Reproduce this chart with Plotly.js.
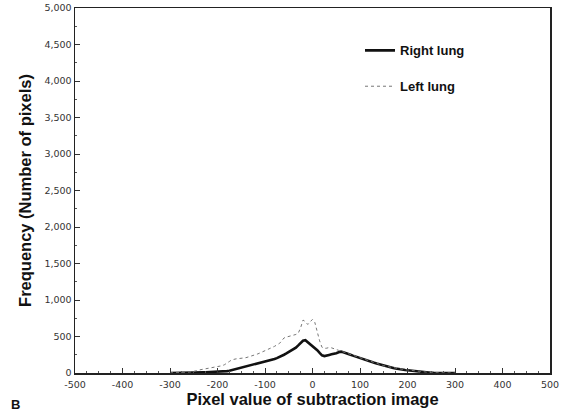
<!DOCTYPE html>
<html>
<head>
<meta charset="utf-8">
<script src="https://cdn.plot.ly/plotly-3.0.1.min.js"></script>
<style>html,body{margin:0;padding:0;background:#fff;}#chart{width:572px;height:414px;}</style>
</head>
<body>
<div id="chart"></div>
<script>
var pixelValues = [-300,-295,-290,-285,-280,-275,-270,-265,-260,-255,-250,-245,-240,-235,-230,-225,-220,-215,-210,-205,-200,-195,-190,-185,-180,-175,-170,-165,-160,-155,-150,-145,-140,-135,-130,-125,-120,-115,-110,-105,-100,-95,-90,-85,-80,-75,-70,-65,-60,-55,-50,-45,-40,-35,-30,-25,-20,-15,-10,-5,0,5,10,15,20,25,30,35,40,45,50,55,60,65,70,75,80,85,90,95,100,105,110,115,120,125,130,135,140,145,150,155,160,165,170,175,180,185,190,195,200,205,210,215,220,225,230,235,240,245,250,255,260,265,270,275,280,285,290,295,300];
var rightLung = [0,0,1,0,2,1,3,2,5,4,5,7,8,9,10,11,12,13,14,15,16,17,19,22,26,32,40,48,56,66,76,86,95,104,113,120,128,137,146,152,160,165,173,182,192,204,216,232,250,268,286,300,322,348,378,412,442,450,422,395,372,345,312,275,242,232,236,248,256,262,272,285,292,284,276,262,250,238,226,214,202,190,180,170,160,150,140,130,120,110,100,90,82,76,70,62,55,50,45,42,38,34,30,25,20,15,12,9,6,4,3,2,2,1,1,0,0,0,0,0,0];
var leftLung = [2,2,3,4,5,6,8,10,12,16,20,30,40,46,50,52,55,62,70,78,86,92,100,115,132,158,180,190,195,198,200,205,210,220,228,240,250,262,276,290,305,316,330,348,365,385,402,440,480,492,500,508,516,528,545,620,725,705,665,700,735,690,560,440,352,338,340,350,345,330,320,310,300,290,280,268,256,244,232,220,210,198,186,174,162,152,142,130,120,110,100,92,85,78,72,65,58,52,48,45,42,38,35,28,22,18,14,11,8,6,5,4,3,2,2,1,1,0,0,0,0];
var xTicks = [-500,-400,-300,-200,-100,0,100,200,300,400,500];
var xTickLabels = ['-500','-400','-300','-200','-100','0','100','200','300','400','500'];
var yTicks = [0,500,1000,1500,2000,2500,3000,3500,4000,4500,5000];
var yTickLabels = ['0','500','1,000','1,500','2,000','2,500','3,000','3,500','4,000','4,500','5,000'];

var traces = [
  {x: pixelValues, y: rightLung, type: 'scatter', mode: 'lines', name: 'Right lung', legendgroup: 'r',
   line: {color: '#111', width: 2.6}},
  {x: pixelValues, y: leftLung, type: 'scatter', mode: 'lines', name: 'Left lung', legendgroup: 'l',
   line: {color: '#777', width: 1, dash: 'dot'}}
];

var axisFont = {family: 'DejaVu Sans, sans-serif', size: 9.5, color: '#333'};
var boldFont = 'Liberation Sans, Arial, sans-serif';
var layout = {
  width: 572, height: 414,
  margin: {l: 75, r: 22, t: 8, b: 41},
  paper_bgcolor: '#fff', plot_bgcolor: '#fff',
  showlegend: true,
  legend: {x: 0.6, y: 0.925, xanchor: 'left', yanchor: 'top', traceorder: 'grouped', tracegroupgap: 16,
    font: {family: boldFont, size: 13, color: '#111', weight: 'bold'},
    bgcolor: 'rgba(0,0,0,0)', itemwidth: 30},
  xaxis: {range: [-500, 500], tickvals: xTicks, ticktext: xTickLabels, ticks: 'inside', ticklen: 5, tickcolor: '#333', tickwidth: 1,
    showline: true, linecolor: '#222', linewidth: 1.5, mirror: true, showgrid: false, zeroline: false,
    tickfont: axisFont, ticklabelstandoff: 2,
    minor: {dtick: 25, ticks: 'inside', ticklen: 2, tickcolor: '#555'},
    title: {text: 'Pixel value of subtraction image', standoff: 2,
      font: {family: boldFont, size: 16.5, color: '#111', weight: 'bold'}}},
  yaxis: {range: [0, 5000], tickvals: yTicks, ticktext: yTickLabels, ticks: 'inside', ticklen: 5, tickcolor: '#333', tickwidth: 1,
    showline: true, linecolor: '#222', linewidth: 1.5, mirror: true, showgrid: false, zeroline: false,
    tickfont: axisFont,
    minor: {dtick: 250, ticks: 'inside', ticklen: 2, tickcolor: '#555'},
    title: {text: 'Frequency (Number of pixels)', standoff: 8,
      font: {family: boldFont, size: 16.5, color: '#111', weight: 'bold'}}},
  annotations: [
    {text: 'B', xref: 'paper', yref: 'paper', x: -0.125, y: -0.085, xanchor: 'center', yanchor: 'middle', showarrow: false,
     font: {family: boldFont, size: 13, color: '#111', weight: 'bold'}}
  ]
};
Plotly.newPlot('chart', traces, layout, {displayModeBar: false, staticPlot: true});
</script>
</body>
</html>
